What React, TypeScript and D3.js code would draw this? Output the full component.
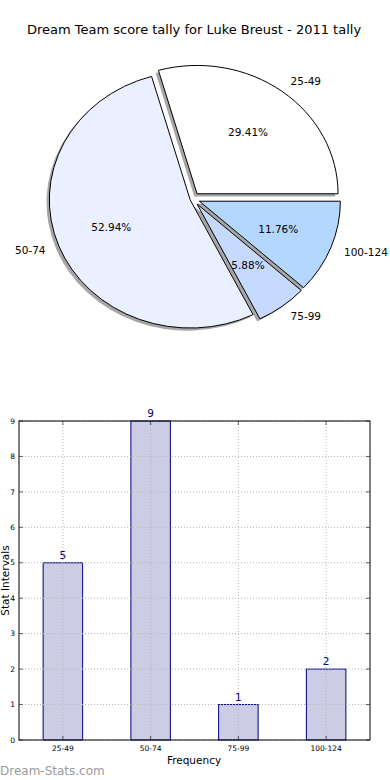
import React from 'react';
import * as d3 from 'd3';

const title = 'Dream Team score tally for Luke Breust - 2011 tally';
const categories = ['25-49', '50-74', '75-99', '100-124'];
const counts = [5, 9, 1, 2];
const sliceColors = ['#ffffff', '#eaf0ff', '#c6d9ff', '#b3d7ff'];
const explode = [0.05, 0.02, 0.05, 0.05];
const yTicks = [0, 1, 2, 3, 4, 5, 6, 7, 8, 9];

const W = 390;
const H = 780;

function PieChart() {
  const cx = 192.8, cy = 198.9, rx = 141, ry = 128.3;
  const total = d3.sum(counts);
  const pie = d3.pie<number>()
    .value((d) => d)
    .sort(null)
    .startAngle(Math.PI / 2)
    .endAngle(Math.PI / 2 - 2 * Math.PI);
  const arc = d3.arc<d3.PieArcDatum<number>>().innerRadius(0).outerRadius(1);
  const arcs = pie(counts);

  return (
    <g>
      {arcs.map((d, i) => {
        const mid = (d.startAngle + d.endAngle) / 2;
        const ux = Math.sin(mid), uy = -Math.cos(mid);
        const ox = cx + explode[i] * rx * ux;
        const oy = cy + explode[i] * ry * uy;
        return (
          <g key={'s' + i} transform={`translate(${ox - 2.8},${oy + 2.6}) scale(${rx},${ry})`}>
            <path d={arc(d) || ''} fill="#4d4d4d" opacity={0.5} />
          </g>
        );
      })}
      {arcs.map((d, i) => {
        const mid = (d.startAngle + d.endAngle) / 2;
        const ux = Math.sin(mid), uy = -Math.cos(mid);
        const ox = cx + explode[i] * rx * ux;
        const oy = cy + explode[i] * ry * uy;
        return (
          <g key={'p' + i} transform={`translate(${ox},${oy}) scale(${rx},${ry})`}>
            <path d={arc(d) || ''} fill={sliceColors[i]} stroke="#000"
                  strokeWidth={1} vectorEffect="non-scaling-stroke" />
          </g>
        );
      })}
      {arcs.map((d, i) => {
        const mid = (d.startAngle + d.endAngle) / 2;
        const ux = Math.sin(mid), uy = -Math.cos(mid);
        const ox = cx + explode[i] * rx * ux;
        const oy = cy + explode[i] * ry * uy;
        const lx = ox + 1.1 * rx * ux, ly = oy + 1.1 * ry * uy;
        const px = ox + 0.6 * rx * ux, py = oy + 0.6 * ry * uy;
        return (
          <g key={'t' + i} fontSize={10.5} fill="#000">
            <text x={lx} y={ly} dy="0.35em" textAnchor={ux > 0 ? 'start' : 'end'}>
              {categories[i]}
            </text>
            <text x={px} y={py} dy="0.35em" textAnchor="middle">
              {(counts[i] / total * 100).toFixed(2) + '%'}
            </text>
          </g>
        );
      })}
    </g>
  );
}

function BarChart() {
  const left = 19, right = 370, top = 421, bottom = 740;
  const x = d3.scaleLinear().domain([-0.5, categories.length - 0.5]).range([left, right]);
  const y = d3.scaleLinear().domain([0, 9]).range([bottom, top]);
  const barW = x(0.45) - x(0);
  const grid = '#b5b5b5';

  return (
    <g>
      {counts.map((c, i) => (
        <rect key={'b' + i} x={x(i) - barW / 2} y={y(c)} width={barW} height={y(0) - y(c)}
              fill="#ccccE4" stroke="#000080" strokeWidth={1} />
      ))}
      {yTicks.map((t) => (
        <line key={'gy' + t} x1={left} x2={right} y1={y(t)} y2={y(t)}
              stroke={grid} strokeDasharray="1,2" />
      ))}
      {categories.map((c, i) => (
        <line key={'gx' + i} x1={x(i)} x2={x(i)} y1={top} y2={bottom}
              stroke={grid} strokeDasharray="1,2" />
      ))}
      {yTicks.map((t) => (
        <g key={'ty' + t}>
          <line x1={left} x2={left + 4} y1={y(t)} y2={y(t)} stroke="#000" strokeWidth={0.6} />
          <line x1={right - 4} x2={right} y1={y(t)} y2={y(t)} stroke="#000" strokeWidth={0.6} />
          <text x={left - 4} y={y(t)} dy="0.35em" textAnchor="end" fontSize={7.5}>{t}</text>
        </g>
      ))}
      {categories.map((c, i) => (
        <g key={'tx' + i}>
          <line x1={x(i)} x2={x(i)} y1={bottom} y2={bottom - 4} stroke="#000" strokeWidth={0.6} />
          <line x1={x(i)} x2={x(i)} y1={top} y2={top + 4} stroke="#000" strokeWidth={0.6} />
          <text x={x(i)} y={bottom + 11} textAnchor="middle" fontSize={7.5}>{c}</text>
        </g>
      ))}
      {counts.map((c, i) => (
        <text key={'v' + i} x={x(i)} y={y(c) - 4} textAnchor="middle" fontSize={10.5} fill="#000080">
          {c}
        </text>
      ))}
      <rect x={left} y={top} width={right - left} height={bottom - top} fill="none" stroke="#000" strokeWidth={1} />
      <text x={194} y={764} textAnchor="middle" fontSize={10.5}>Frequency</text>
      <text transform={`translate(8.5,${(top + bottom) / 2}) rotate(-90)`} textAnchor="middle" fontSize={10.5}>
        Stat Intervals
      </text>
    </g>
  );
}

export default function App() {
  return (
    <svg width={W} height={H} style={{ position: 'absolute', left: 0, top: 0, background: '#fff' }}
         fontFamily="DejaVu Sans, sans-serif">
      <rect width={W} height={H} fill="#fff" />
      <text x={194} y={34} textAnchor="middle" fontSize={13}>{title}</text>
      <PieChart />
      <BarChart />
      <text x={0} y={775} fontSize={12} fill="#9a9a9a">Dream-Stats.com</text>
    </svg>
  );
}
